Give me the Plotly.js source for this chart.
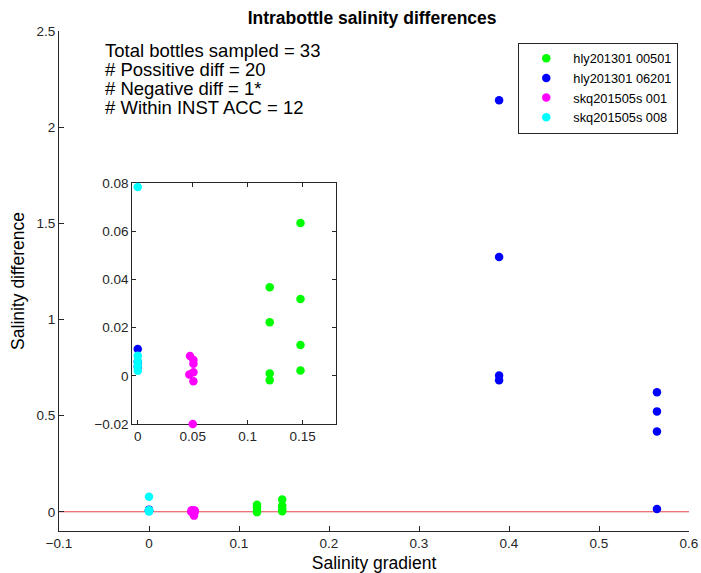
<!DOCTYPE html>
<html>
<head>
<meta charset="utf-8">
<script src="https://cdn.plot.ly/plotly-3.0.1.min.js"></script>
<style>html,body{margin:0;padding:0;background:#fff;}#chart{width:701px;height:573px;}</style>
</head>
<body>
<div id="chart"></div>
<script>
// ---- data ----
const seriesNames = ["hly201301 00501", "hly201301 06201", "skq201505s 001", "skq201505s 008"];
const seriesColors = ["#00ff00", "#0000ff", "#ff00ff", "#00ffff"];

const greenX = [0.12, 0.12, 0.12, 0.12, 0.148, 0.148, 0.148, 0.148];
const greenY = [0.0367, 0.0222, 0.0010, -0.0018, 0.0634, 0.0319, 0.0128, 0.0022];

const blueX = [0.389, 0.389, 0.389, 0.389, 0.5644, 0.5644, 0.5644, 0.5644, 0.0, 0.0, 0.0];
const blueY = [2.14, 1.325, 0.708, 0.684, 0.621, 0.522, 0.417, 0.014, 0.0111, 0.0058, 0.0038];

const magentaX = [0.0475, 0.0506, 0.0506, 0.0506, 0.0469, 0.0506, 0.0500];
const magentaY = [0.0082, 0.0066, 0.0050, 0.0015, 0.0005, -0.0023, -0.0200];

const cyanX = [0.0, 0.0, 0.0, 0.0, 0.0];
const cyanY = [0.0783, 0.0083, 0.0060, 0.0041, 0.0021];

const infoLines = [
  "Total bottles sampled = 33",
  "# Possitive diff = 20",
  "# Negative diff = 1*",
  "# Within INST ACC = 12"
];

const mainXTicks = [-0.1, 0, 0.1, 0.2, 0.3, 0.4, 0.5, 0.6];
const mainYTicks = [0, 0.5, 1, 1.5, 2, 2.5];
const insetXTicks = [0, 0.05, 0.1, 0.15];
const insetYTicks = [-0.02, 0, 0.02, 0.04, 0.06, 0.08];

// ---- build ----
const xs = [greenX, blueX, magentaX, cyanX];
const ys = [greenY, blueY, magentaY, cyanY];
const FONT = "Liberation Sans, Arial, Helvetica, sans-serif";
const AX = "#262626";

const traces = [];
for (let i = 0; i < 4; i++) {
  traces.push({x: xs[i], y: ys[i], type: "scatter", mode: "markers", name: seriesNames[i],
    marker: {color: seriesColors[i], size: 8.5}, xaxis: "x", yaxis: "y", showlegend: true,
    cliponaxis: false});
}
for (let i = 0; i < 4; i++) {
  traces.push({x: xs[i], y: ys[i], type: "scatter", mode: "markers", name: seriesNames[i],
    marker: {color: seriesColors[i], size: 8.5}, xaxis: "x2", yaxis: "y2", showlegend: false,
    cliponaxis: false});
}

const annotations = infoLines.map((t, i) => ({
  text: t, xref: "paper", yref: "paper", x: 0.07, y: 0.962 - i * 0.038,
  xanchor: "left", yanchor: "middle", showarrow: false,
  font: {family: FONT, size: 18.5, color: "#000"}
}));

const layout = {
  width: 701, height: 573,
  margin: {l: 59, r: 12, t: 31, b: 42},
  paper_bgcolor: "#fff", plot_bgcolor: "#fff",
  font: {family: FONT, color: AX},
  title: {text: "<b>Intrabottle salinity differences</b>", font: {family: FONT, size: 17.5, color: "#000"},
    xref: "paper", x: 0.497, xanchor: "center", yref: "container", y: 0.968, yanchor: "middle"},
  showlegend: true,
  legend: {x: 0.729, y: 0.977, xanchor: "left", yanchor: "top", bgcolor: "#fff",
    bordercolor: AX, borderwidth: 1, font: {family: FONT, size: 12.8, color: "#000"},
    itemwidth: 44, itemclick: false},
  xaxis: {range: [-0.1, 0.6], tickvals: mainXTicks, showgrid: false, zeroline: false,
    showline: true, linecolor: AX, linewidth: 1, ticks: "inside", ticklen: 5, tickcolor: AX,
    layer: "below traces",
    tickfont: {family: FONT, size: 13.5, color: AX},
    title: {text: "Salinity gradient", font: {family: FONT, size: 17.5, color: "#000"}, standoff: 7}},
  yaxis: {range: [-0.1, 2.5], tickvals: mainYTicks, showgrid: false, zeroline: false,
    showline: true, linecolor: AX, linewidth: 1, ticks: "inside", ticklen: 5, tickcolor: AX,
    layer: "below traces",
    tickfont: {family: FONT, size: 13.5, color: AX},
    title: {text: "Salinity difference", font: {family: FONT, size: 17.5, color: "#000"}, standoff: 7}},
  xaxis2: {domain: [0.1163, 0.4392], anchor: "y2", range: [-0.005, 0.18], tickvals: insetXTicks,
    showgrid: false, zeroline: false, showline: true, mirror: "ticks", linecolor: AX, linewidth: 1,
    layer: "below traces",
    ticks: "inside", ticklen: 4, tickcolor: AX, tickfont: {family: FONT, size: 13.5, color: AX}},
  yaxis2: {domain: [0.214, 0.696], anchor: "x2", range: [-0.02, 0.08], tickvals: insetYTicks,
    showgrid: false, zeroline: false, showline: true, mirror: "ticks", linecolor: AX, linewidth: 1,
    layer: "below traces",
    ticks: "inside", ticklen: 4, tickcolor: AX, tickfont: {family: FONT, size: 13.5, color: AX}},
  shapes: [
    {type: "line", layer: "below", xref: "x domain", x0: 0, x1: 1, yref: "y", y0: 0, y1: 0,
      line: {color: "#e8404c", width: 1}},
    {type: "line", layer: "below", xref: "x2 domain", x0: 0, x1: 1, yref: "y2", y0: 0, y1: 0,
      line: {color: "#f08c8c", width: 1}}
  ],
  annotations: annotations
};

Plotly.newPlot("chart", traces, layout, {staticPlot: true, displayModeBar: false});
</script>
</body>
</html>
